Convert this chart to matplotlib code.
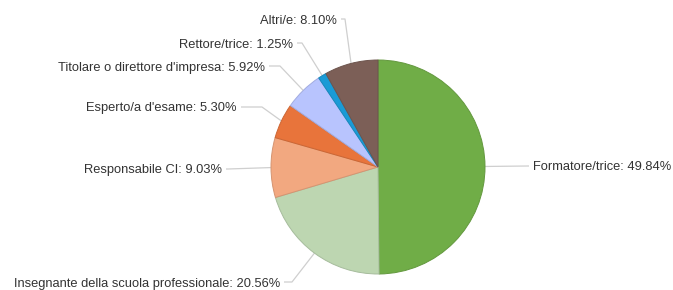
import matplotlib
matplotlib.use("Agg")
import matplotlib.pyplot as plt
import matplotlib.colors as mcolors
import numpy as np

categories = ["Formatore/trice", "Insegnante della scuola professionale", "Responsabile CI",
              "Esperto/a d'esame", "Titolare o direttore d'impresa", "Rettore/trice", "Altri/e"]
values = [49.84, 20.56, 9.03, 5.30, 5.92, 1.25, 8.10]
colors = ["#70AD47", "#BDD6B1", "#F2A880", "#E8743B", "#B8C4FE", "#1A9BD6", "#7C5F57"]

W, H = 673, 290
fig = plt.figure(figsize=(W / 100, H / 100), dpi=100)
ax = fig.add_axes([0, 0, 1, 1])

cx, cy, r = 378, H - 167, 107

def darker(c, f=0.88):
    rgb = np.array(mcolors.to_rgb(c))
    return tuple(rgb * f)

wedges, _ = ax.pie(values, colors=colors, startangle=90, counterclock=False,
                   center=(cx, cy), radius=r, frame=True,
                   wedgeprops=dict(linewidth=0.7))
for w, c in zip(wedges, colors):
    w.set_edgecolor(darker(c))
ax.set_xlim(0, W)
ax.set_ylim(0, H)
ax.set_aspect("equal")
ax.axis("off")

# label layout: (text x, text y from top, ha, elbow x)
layout = {
    0: (533, 166, "left", 528),
    1: (280, 282, "right", 292),
    2: (222, 169, "right", 228),
    3: (237, 107, "right", 262),
    4: (265, 66, "right", 280),
    5: (293, 43, "right", 302),
    6: (337, 19, "right", 345),
}
line_col = "#CFCFCF"
for i, w in enumerate(wedges):
    ang = np.deg2rad((w.theta1 + w.theta2) / 2)
    ex, ey = cx + r * np.cos(ang), cy + r * np.sin(ang)
    tx, ty, ha, elx = layout[i]
    ty = H - ty
    gap = 4 if ha == "right" else -4
    ax.plot([tx + gap, elx, ex], [ty, ty, ey], color=line_col, lw=0.9,
            solid_capstyle="butt", zorder=0)
    ax.text(tx, ty - 1.5, f"{categories[i]}: {values[i]:.2f}%", ha=ha, va="center",
            fontsize=9.3, family=["Liberation Sans", "DejaVu Sans"], color="#333333")

fig.savefig("out.png", dpi=100)
